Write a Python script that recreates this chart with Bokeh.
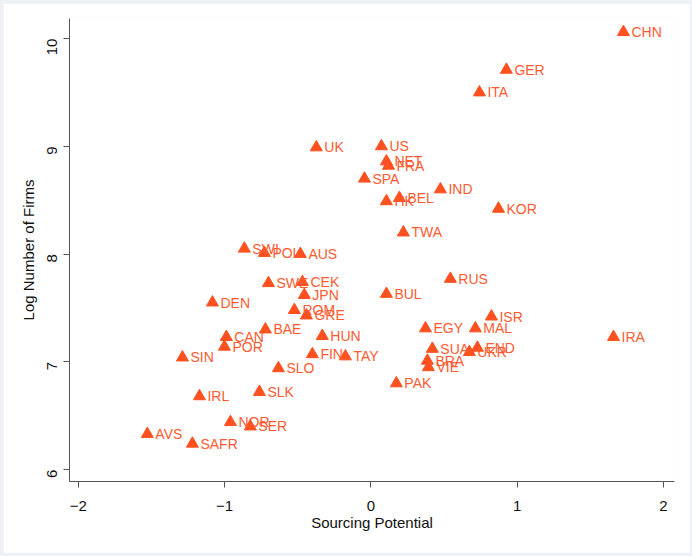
import math
from bokeh.plotting import figure
from bokeh.models import ColumnDataSource
from bokeh.layouts import column
from bokeh.embed import file_html
from bokeh.resources import INLINE

# Country codes with sourcing potential (x) and log number of firms (y)
countries = ["CHN", "GER", "ITA", "UK", "US", "NET", "FRA", "SPA", "IND", "BEL",
             "HK", "KOR", "TWA", "SWI", "POL", "AUS", "SWE", "CEK", "JPN", "BUL",
             "RUS", "DEN", "ROM", "GRE", "ISR", "EGY", "MAL", "BAE", "IRA", "CAN",
             "HUN", "POR", "SUA", "END", "UKR", "BRA", "VIE", "FIN", "TAY", "SIN",
             "SLO", "PAK", "SLK", "IRL", "NOR", "SER", "AVS", "SAFR"]
sourcing_potential = [1.726, 0.926, 0.742, -0.373, 0.072, 0.106, 0.120, -0.044, 0.475, 0.195,
                      0.106, 0.872, 0.222, -0.865, -0.728, -0.482, -0.700, -0.468, -0.455, 0.106,
                      0.543, -1.083, -0.523, -0.441, 0.824, 0.373, 0.714, -0.721, 1.658, -0.988,
                      -0.332, -1.001, 0.420, 0.728, 0.673, 0.386, 0.393, -0.400, -0.174, -1.288,
                      -0.632, 0.174, -0.762, -1.172, -0.960, -0.824, -1.528, -1.220]
log_firms = [10.06, 9.71, 9.50, 8.99, 9.00, 8.86, 8.82, 8.70, 8.60, 8.52,
             8.49, 8.42, 8.20, 8.05, 8.01, 8.00, 7.73, 7.74, 7.62, 7.63,
             7.77, 7.55, 7.48, 7.43, 7.42, 7.31, 7.31, 7.30, 7.23, 7.23,
             7.24, 7.14, 7.12, 7.13, 7.09, 7.01, 6.95, 7.07, 7.05, 7.04,
             6.94, 6.80, 6.72, 6.68, 6.44, 6.40, 6.33, 6.24]

x_ticks = [-2, -1, 0, 1, 2]
y_ticks = [6, 7, 8, 9, 10]

source = ColumnDataSource(dict(x=sourcing_potential, y=log_firms, name=countries))

MARK = "#FF5020"
TEXT = "#FF5A30"
FONT = "Liberation Sans"

p = figure(width=687, height=550, x_range=(-2.06, 2.075), y_range=(5.889, 10.186),
           output_backend="svg", toolbar_location=None,
           min_border_left=66, min_border_right=16, min_border_top=15, min_border_bottom=72)

p.background_fill_color = "white"
p.border_fill_color = "white"
p.outline_line_color = None
p.xgrid.visible = False
p.ygrid.visible = False

p.scatter("x", "y", source=source, marker="triangle", size=12,
          fill_color=MARK, line_color=MARK)
p.text("x", "y", text="name", source=source, x_offset=8, text_baseline="middle",
       text_font_size="14px", text_color=TEXT, text_font={"value": FONT})

for ax in (p.xaxis[0], p.yaxis[0]):
    ax.axis_line_color = "#555555"
    ax.major_tick_line_color = "#555555"
    ax.major_tick_out = 6
    ax.major_tick_in = 0
    ax.minor_tick_line_color = None
    ax.major_label_text_font = FONT
    ax.major_label_text_font_size = "15px"
    ax.major_label_text_color = "#111111"
    ax.axis_label_text_font = FONT
    ax.axis_label_text_font_size = "15px"
    ax.axis_label_text_font_style = "normal"
    ax.axis_label_text_color = "#111111"

p.xaxis.ticker = x_ticks
p.yaxis.ticker = y_ticks
p.xaxis.axis_label = "Sourcing Potential"
p.yaxis.axis_label = "Log Number of Firms"
p.yaxis.major_label_orientation = math.pi / 2
p.xaxis.major_label_standoff = 13
p.xaxis.axis_label_standoff = 0
p.yaxis.major_label_standoff = 11
p.yaxis.axis_label_standoff = 3

page = column(p, styles={"background-color": "#edf1f5",
                         "padding": "3px 2px 3px 3px"})

open("out.html", "w").write(file_html(page, INLINE))
